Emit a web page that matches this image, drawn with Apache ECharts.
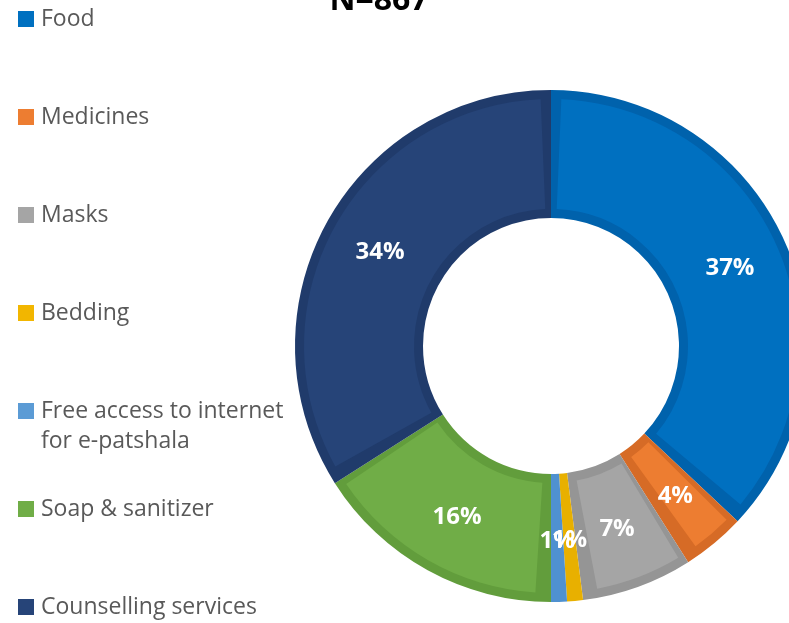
<!DOCTYPE html>
<html>
<head>
<meta charset="utf-8">
<title>Support received (N=867)</title>
<script src="https://cdn.jsdelivr.net/npm/echarts@6/dist/echarts.min.js"></script>
<style>
  html, body { margin: 0; padding: 0; background: #ffffff; }
  #chart { width: 789px; height: 623px; }
</style>
</head>
<body>
<div id="chart"></div>
<script>
// Kinds of support received, share of respondents (%)
const categories = [
  'Food',
  'Medicines',
  'Masks',
  'Bedding',
  'Free access to internet for e-patshala',
  'Soap & sanitizer',
  'Counselling services'
];
const shares = [37, 4, 7, 1, 1, 16, 34];
const sampleLabel = 'N=867';

// Slice fills and the slightly darker rim around each slice
const fillColors = ['#0070C0', '#ED7D31', '#A5A5A5', '#F2B600', '#5B9BD5', '#70AD47', '#264478'];
const rimColors  = ['#0062AC', '#D66B26', '#959595', '#E8B000', '#4F91D0', '#629D3C', '#203B6B'];

const CENTER = [551, 346];
const RADIUS = [128, 256];

const chart = echarts.init(document.getElementById('chart'), null, { renderer: 'canvas' });

const pieData = (colors) => categories.map((name, i) => ({
  name: name,
  value: shares[i],
  itemStyle: { color: colors[i] }
}));

// long legend entry is wrapped onto two lines
const wrapLegend = (n) => n === 'Free access to internet for e-patshala'
  ? '\nFree access to internet\nfor e-patshala'
  : n;

// one legend block per category, stacked at a fixed pitch
const LINE = 30;
const legendPitch = 98;
const legendFirstCenter = 19;
const legends = categories.map((name, i) => {
  const lines = wrapLegend(name).split('\n').length;
  return {
    data: [name],
    orient: 'vertical',
    left: 18,
    top: legendFirstCenter + legendPitch * i - (lines * LINE) / 2,
    padding: 0,
    icon: 'rect',
    itemWidth: 16,
    itemHeight: 16,
    itemGap: 0,
    selectedMode: false,
    textStyle: {
      color: '#595959',
      fontFamily: 'Open Sans',
      fontSize: 23,
      lineHeight: LINE,
      padding: [0, 0, 0, 2]
    },
    formatter: wrapLegend
  };
});

// percentage labels sit in the middle of the ring
const labelSeries = {
  name: 'labels',
  type: 'pie',
  z: 3,
  center: CENTER,
  radius: RADIUS,
  startAngle: 90,
  clockwise: true,
  silent: true,
  avoidLabelOverlap: false,
  minShowLabelAngle: 0,
  itemStyle: { color: 'rgba(0,0,0,0)' },
  label: {
    show: true,
    position: 'inside',
    formatter: '{c}%',
    color: '#ffffff',
    fontFamily: 'Open Sans',
    fontWeight: 'bold',
    fontSize: 24,
    overflow: 'none'
  },
  labelLayout: { hideOverlap: false, moveOverlap: false },
  labelLine: { show: false },
  data: categories.map((name, i) => ({ name: name, value: shares[i] }))
};

chart.setOption({
  backgroundColor: '#ffffff',
  animation: false,
  title: {
    text: sampleLabel,
    left: 374,
    top: -20,
    textAlign: 'center',
    textStyle: {
      color: '#000000',
      fontFamily: 'Open Sans',
      fontWeight: 'bold',
      fontSize: 32
    }
  },
  legend: legends,
  series: [
    {
      // inner lighter fill of each slice
      name: 'fill',
      type: 'pie',
      z: 2,
      center: CENTER,
      radius: [RADIUS[0] + 9, RADIUS[1] - 9],
      startAngle: 90,
      clockwise: true,
      padAngle: 4.8,
      silent: true,
      label: { show: false },
      labelLine: { show: false },
      data: pieData(fillColors)
    },
    {
      // darker rim: full-size ring underneath
      name: 'rim',
      type: 'pie',
      z: 1,
      center: CENTER,
      radius: RADIUS,
      startAngle: 90,
      clockwise: true,
      silent: true,
      label: { show: false },
      labelLine: { show: false },
      data: pieData(rimColors)
    },
    labelSeries
  ]
});
</script>
</body>
</html>
